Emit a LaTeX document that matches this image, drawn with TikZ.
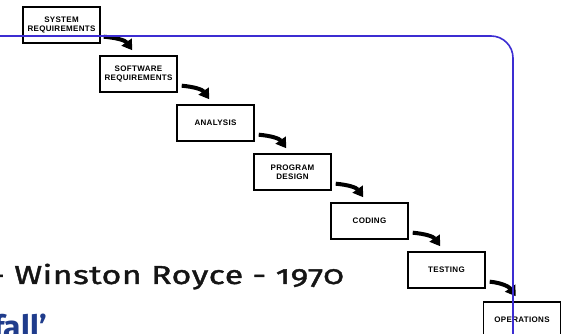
\documentclass[tikz,border=0pt]{standalone}
\usepackage{fontspec}
\setmainfont{Fira Sans}[Numbers=OldStyle]
\newfontfamily\titlefont{Fira Sans}[Numbers=OldStyle, FakeStretch=1.3, FakeBold=1.5, LetterSpace=2]
\newfontfamily\boxfont{Liberation Sans}[LetterSpace=4]
\usetikzlibrary{positioning, arrows.meta}
\definecolor{ink}{HTML}{151515}
\definecolor{loopline}{RGB}{60,45,210}
\definecolor{titleblue}{HTML}{1F3C8C}

\begin{document}
\begin{tikzpicture}[
  x=1pt, y=1pt,
  stage/.style={draw=black, line width=1.4pt, minimum width=77pt, minimum height=36pt, align=center, inner sep=1pt, font=\boxfont\bfseries\fontsize{8}{9.5}\selectfont},
  flow/.style={-{Triangle[length=10pt, width=12pt]}, line width=4pt, black},
  feedback/.style={draw=loopline, line width=1.6pt, rounded corners=22pt},
  caption/.style={anchor=base west, inner sep=0pt}
]
  \useasboundingbox (0,0) rectangle (562,334);
  \clip (0,0) rectangle (562,334);

  % the stages, stepping down to the right
  \node[stage] (sysreq) at (61.5,309) {SYSTEM\\REQUIREMENTS};
  \node[stage] (swreq) at (138.5,260) {SOFTWARE\\REQUIREMENTS};
  \node[stage] (analysis) at (215.5,211) {ANALYSIS};
  \node[stage] (design) at (292.5,162) {PROGRAM\\DESIGN};
  \node[stage] (coding) at (369.5,113) {CODING};
  \node[stage] (testing) at (446.5,64) {TESTING};
  \node[stage] (ops) at (522,14) {OPERATIONS};

  % arrows from one stage to the next
  \draw[flow] ([shift={(3,7)}]sysreq.south east) to[out=-5, in=125] ([shift={(33,5)}]swreq.north west);
  \draw[flow] ([shift={(4,7)}]swreq.south east) to[out=-5, in=125] ([shift={(33,5)}]analysis.north west);
  \draw[flow] ([shift={(4,7)}]analysis.south east) to[out=-5, in=125] ([shift={(33,5)}]design.north west);
  \draw[flow] ([shift={(4,7)}]design.south east) to[out=-5, in=125] ([shift={(33,5)}]coding.north west);
  \draw[flow] ([shift={(4,7)}]coding.south east) to[out=-5, in=125] ([shift={(33,5)}]testing.north west);
  \draw[flow] ([shift={(4,7)}]testing.south east) to[out=-5, in=125] ([shift={(33,5)}]ops.north west);

  % title text
  \node[caption, text=ink, font=\titlefont\fontsize{26}{30}\selectfont] (royce) at (-9,50) {- Winston Royce - 1970};
  \node[caption, text=titleblue, font=\bfseries\fontsize{32}{36}\selectfont] (waterfall) at (-7,-5) {fall’};

  % blue line over the top
  \coordinate (loopstart) at (-2,298);
  \coordinate (loopend) at (513,-2);
  \draw[feedback] (loopstart) -| (loopend);
\end{tikzpicture}
\end{document}
